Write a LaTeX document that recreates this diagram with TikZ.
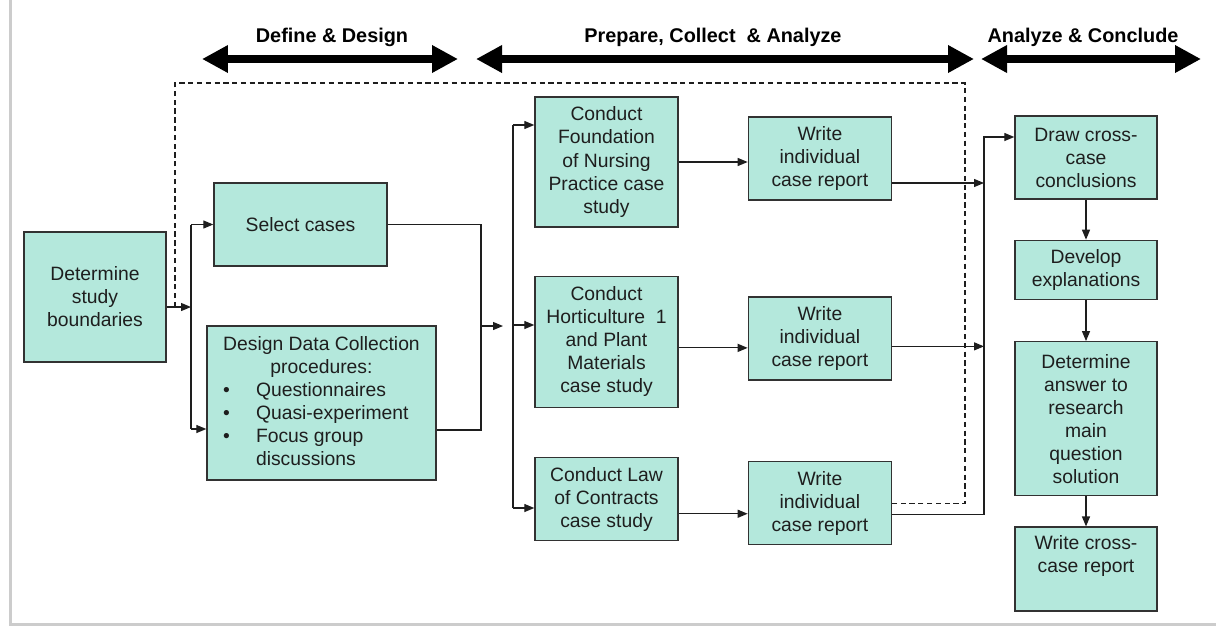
\documentclass[tikz,border=0pt]{standalone}
\usepackage{fontspec}
\setmainfont{Liberation Sans}
\usepackage{tikz}
\usetikzlibrary{arrows.meta,positioning,calc}

\definecolor{boxfill}{RGB}{180,232,220}
\definecolor{boxline}{RGB}{50,50,50}
\definecolor{inkgray}{RGB}{30,30,30}
\newcommand{\boxfont}{\fontsize{11}{13.1}\selectfont}
\newcommand{\phasefont}{\fontsize{11.3}{13}\selectfont\bfseries}

\begin{document}
\begin{tikzpicture}[x=0.02cm, y=-0.02cm,
    stage/.style={rectangle, draw=boxline, line width=0.8pt, fill=boxfill, text=inkgray, font=\boxfont, align=center, inner sep=1pt, minimum width=2.86cm, minimum height=#1},
    stage/.default=1.66cm,
    arr/.style={-{Triangle[length=2mm,width=1.6mm]}, line width=0.7pt, color=inkgray},
    wire/.style={line width=0.7pt, color=inkgray},
    dashlink/.style={dash pattern=on 3pt off 2pt, line width=0.7pt, color=inkgray},
    phasearr/.style={{Triangle[length=0.52cm,width=0.52cm]}-{Triangle[length=0.52cm,width=0.52cm]}, line width=0.16cm, color=black},
    phase/.style={font=\phasefont, text=black}
]
    \useasboundingbox (0,0) rectangle (1216,626);
    \draw[gray!40, line width=1.2pt] (10.5,0) -- (10.5,624.5) -- (1216,624.5);

    % Phase arrows along the top
    \coordinate (dd-l) at (202,59);  \coordinate (dd-r) at (458,59);
    \coordinate (pc-l) at (476,59);  \coordinate (pc-r) at (974,59);
    \coordinate (ac-l) at (981,59);  \coordinate (ac-r) at (1201,59);
    \draw[phasearr] (dd-l) -- (dd-r);
    \draw[phasearr] (pc-l) -- (pc-r);
    \draw[phasearr] (ac-l) -- (ac-r);
    \node[phase] (dd) at (332,37)  {Define \& Design};
    \node[phase] (pc) at (713,37)  {Prepare, Collect\ \ \& Analyze};
    \node[phase] (ac) at (1083,37) {Analyze \& Conclude};

    % Define & design
    \node[stage=2.6cm, minimum width=2.84cm] (bound) at (95,297) {Determine\\study\\boundaries};
    \node[stage, minimum width=3.46cm] (select) at (300.5,224.5) {Select cases};
    \node[stage=3.08cm, minimum width=4.58cm, inner sep=0pt] (design) at (321.5,403) {%
        \begin{tabular}{@{\hspace{0.32cm}}p{0.66cm}@{}p{3.6cm}@{}}
        \multicolumn{2}{@{}c@{}}{Design Data Collection}\\
        \multicolumn{2}{@{}c@{}}{procedures:}\\
        \textbullet & Questionnaires\\
        \textbullet & Quasi-experiment\\
        \textbullet & Focus group\\
                    & discussions
        \end{tabular}};

    % Case studies and their reports
    \node[stage=2.6cm] (nursing) at (606.5,162) {Conduct\\Foundation\\of Nursing\\Practice case\\study};
    \node[stage=2.62cm, below=0.96cm of nursing] (hort) {Conduct\\Horticulture\ \ 1\\and Plant\\Materials\\case study};
    \node[stage, below=0.98cm of hort] (law) {Conduct Law\\of Contracts\\case study};
    \node[stage, right=1.38cm of nursing, yshift=0.07cm] (rep1) {Write\\individual\\case report};
    \node[stage, right=1.38cm of hort, yshift=0.07cm]    (rep2) {Write\\individual\\case report};
    \node[stage, right=1.38cm of law, yshift=-0.08cm]    (rep3) {Write\\individual\\case report};

    % Analyze & conclude
    \node[stage, minimum width=2.84cm] (cross) at (1086,157.5) {Draw cross-\\case\\conclusions};
    \node[stage=1.18cm, minimum width=2.84cm, below=0.8cm of cross]  (explain) {Develop\\explanations};
    \node[stage=3.08cm, minimum width=2.84cm, below=0.82cm of explain] (answer) {Determine\\answer to\\research\\main\\question\\solution};
    \node[stage=1.68cm, minimum width=2.84cm, below=0.6cm of answer]  (final) {Write cross-\\case report\\\strut};

    % Split after the study boundaries
    \coordinate (split) at (191,307);
    \coordinate (fork)  at (191,429);
    \draw[arr]  (bound.east |- split) -- (split);
    \draw[wire] (split |- select.west) -- (fork);
    \draw[arr]  (split |- select.west) -- (select.west);
    \draw[arr]  (fork) -- (fork -| design.west);

    % Join into the case studies
    \coordinate (join)    at (481,326);
    \coordinate (joinlow) at (481,430);
    \coordinate (gap)     at (503,326);
    \draw[wire] (select.east) -| (joinlow) -- (joinlow -| design.east);
    \draw[arr]  (join) -- (gap);
    \coordinate (bus-top) at (513,125);
    \coordinate (bus-mid) at (513,325);
    \coordinate (bus-bot) at (513,508);
    \draw[wire] (bus-top) -- (bus-bot);
    \draw[arr]  (bus-top) -- (bus-top -| nursing.west);
    \draw[arr]  (bus-mid) -- (bus-mid -| hort.west);
    \draw[arr]  (bus-bot) -- (bus-bot -| law.west);

    % Case study -> report
    \coordinate (h-out) at ([yshift=-0.12cm]hort.east);
    \coordinate (l-out) at ([yshift=-0.29cm]law.east);
    \draw[arr] (nursing.east) -- (nursing.east -| rep1.west);
    \draw[arr] (h-out) -- (h-out -| rep2.west);
    \draw[arr] (l-out) -- (l-out -| rep3.west);

    % Reports -> cross-case conclusions
    \coordinate (r1-out) at ([yshift=-0.49cm]rep1.east);
    \coordinate (r2-out) at ([yshift=-0.16cm]rep2.east);
    \coordinate (r3-out) at ([yshift=-0.23cm]rep3.east);
    \coordinate (bus3)   at (984,137);
    \draw[arr] (r1-out) -- (r1-out -| bus3);
    \draw[arr] (r2-out) -- (r2-out -| bus3);
    \draw[arr] (r3-out) -| (bus3) -- (bus3 -| cross.west);

    % Feedback loop (dashed)
    \coordinate (fb)    at (175,307);
    \coordinate (fbtop) at (965,83);
    \draw[dashlink] (fb) |- (fbtop) |- (rep3.east);

    % Conclusion chain
    \draw[arr] (cross)   -- (explain);
    \draw[arr] (explain) -- (answer);
    \draw[arr] (answer)  -- (final);
\end{tikzpicture}
\end{document}
